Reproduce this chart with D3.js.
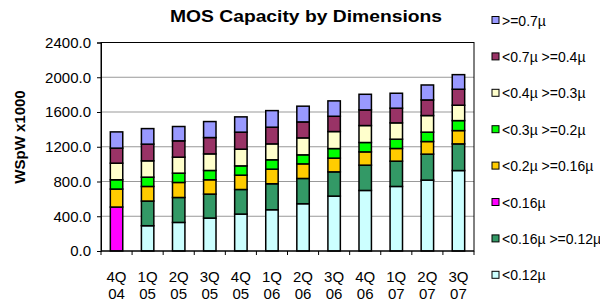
<!DOCTYPE html>
<html>
<head>
<meta charset="utf-8">
<script src="https://cdn.jsdelivr.net/npm/d3@7"></script>
<style>
  body { margin: 0; background: #fff; }
  svg text { font-family: Arial, "Liberation Sans", sans-serif; fill: #000; }
</style>
</head>
<body>
<div id="chart"></div>
<script>
// MOS capacity chart - stacked bars per quarter
var quarters = ["4Q 04", "1Q 05", "2Q 05", "3Q 05", "4Q 05", "1Q 06", "2Q 06", "3Q 06", "4Q 06", "1Q 07", "2Q 07", "3Q 07"];

// series, bottom of the stack first
var seriesNames = ["<0.12\u00b5", "<0.16\u00b5 >=0.12\u00b5", "<0.16\u00b5", "<0.2\u00b5 >=0.16\u00b5",
    "<0.3\u00b5 >=0.2\u00b5", "<0.4\u00b5 >=0.3\u00b5", "<0.7\u00b5 >=0.4\u00b5", ">=0.7\u00b5"];
var seriesColors = ["#CCFFFF", "#339966", "#FF00FF", "#FFCC00", "#00FF00", "#FFFFCC", "#993366", "#9999FF"];

var lt012   = [0, 291, 329, 379, 425, 475, 544, 632, 697, 743, 816, 926];
var lt016ge012 = [0, 284, 287, 276, 283, 299, 291, 279, 291, 291, 299, 307];
var lt016   = [506, 0, 0, 0, 0, 0, 0, 0, 0, 0, 0, 0];
var lt02ge016 = [207, 168, 173, 165, 165, 168, 168, 158, 153, 146, 145, 153];
var lt03ge02 = [107, 107, 107, 107, 107, 108, 104, 110, 108, 107, 108, 115];
var lt04ge03 = [191, 188, 184, 191, 192, 183, 195, 196, 195, 188, 191, 177];
var lt07ge04 = [173, 192, 188, 188, 196, 192, 184, 176, 180, 169, 180, 184];
var ge07    = [187, 179, 165, 184, 176, 191, 181, 177, 180, 172, 172, 168];

var yTicks = [0, 400, 800, 1200, 1600, 2000, 2400];

var seriesValues = [lt012, lt016ge012, lt016, lt02ge016, lt03ge02, lt04ge03, lt07ge04, ge07];

var svgWidth = 600;
var svgHeight = 302;
var margin = { top: 42.5, left: 101, right: 126, bottom: 51 };
var width = svgWidth - margin.left - margin.right;
var height = svgHeight - margin.top - margin.bottom;

var svg = d3.select("#chart").append("svg")
    .attr("width", svgWidth)
    .attr("height", svgHeight);

var chartGroup = svg.append("g")
    .attr("transform", `translate(${margin.left}, ${margin.top})`);

// build table for the stack
var table = quarters.map(function(q, i) {
    var row = { q: q };
    seriesNames.forEach(function(s, j) { row[s] = seriesValues[j][i]; });
    return row;
});
var stacked = d3.stack().keys(seriesNames)(table);

var xScale = d3.scaleBand().domain(quarters).range([0, width]).paddingInner(0.6).paddingOuter(0.3);
var xBand = d3.scaleBand().domain(quarters).range([0, width]);
var yScale = d3.scaleLinear().domain([0, 2400]).range([height, 0]);

// gridlines
chartGroup.append("g")
    .selectAll("line")
    .data(yTicks.slice(1, -1))
    .enter().append("line")
    .attr("x1", 0).attr("x2", width)
    .attr("y1", d => yScale(d)).attr("y2", d => yScale(d))
    .attr("stroke", "#999").attr("stroke-width", 1);

// bars
chartGroup.append("g").selectAll("g")
    .data(stacked)
    .enter().append("g")
    .attr("fill", (d, i) => seriesColors[i])
    .selectAll("rect")
    .data(d => d.filter(p => p[1] - p[0] > 0))
    .enter().append("rect")
    .attr("x", d => xScale(d.data.q))
    .attr("width", xScale.bandwidth())
    .attr("y", d => yScale(d[1]))
    .attr("height", d => yScale(d[0]) - yScale(d[1]))
    .attr("stroke", "#000").attr("stroke-width", 1.5);

// plot border
chartGroup.append("rect")
    .attr("width", width).attr("height", height)
    .attr("fill", "none").attr("stroke", "#000").attr("stroke-width", 1);

// y axis
var yAxis = chartGroup.append("g")
    .call(d3.axisLeft(yScale).tickValues(yTicks).tickSize(4).tickFormat(d3.format(".1f")));
yAxis.select(".domain").attr("stroke", "#000");
yAxis.selectAll("text").attr("font-size", 15).attr("dx", -3)
    .style("font-family", "Arial, 'Liberation Sans', sans-serif");

// x axis - ticks between categories
var xAxisG = chartGroup.append("g").attr("transform", `translate(0, ${height})`);
xAxisG.append("line").attr("x1", 0).attr("x2", width).attr("stroke", "#000");
xAxisG.selectAll(".tk")
    .data(quarters.concat(["end"]))
    .enter().append("line")
    .attr("x1", (d, i) => i * xBand.step()).attr("x2", (d, i) => i * xBand.step())
    .attr("y1", 0).attr("y2", 4).attr("stroke", "#000");

var xLabels = xAxisG.selectAll(".xl")
    .data(quarters)
    .enter().append("text")
    .attr("text-anchor", "middle")
    .attr("font-size", 15);
xLabels.append("tspan")
    .attr("x", d => xBand(d) + xBand.bandwidth() / 2)
    .attr("y", 30.5)
    .text(d => d.split(" ")[0]);
xLabels.append("tspan")
    .attr("x", d => xBand(d) + xBand.bandwidth() / 2)
    .attr("y", 47.5)
    .text(d => d.split(" ")[1]);

// title
svg.append("text")
    .attr("x", 306).attr("y", 22)
    .attr("text-anchor", "middle")
    .attr("font-size", 17).attr("font-weight", "bold")
    .attr("textLength", 272).attr("lengthAdjust", "spacingAndGlyphs")
    .text("MOS Capacity by Dimensions");

// y label
svg.append("text")
    .attr("transform", "translate(25, 137) rotate(-90)")
    .attr("text-anchor", "middle")
    .attr("font-size", 15).attr("font-weight", "bold")
    .text("WSpW x1000");

// legend, top item first
var legend = svg.append("g").attr("transform", "translate(492, 20)");
var legendItems = legend.selectAll("g")
    .data(seriesNames.slice().reverse())
    .enter().append("g")
    .attr("transform", (d, i) => `translate(0, ${i * 36.4})`);
legendItems.append("rect")
    .attr("x", 0).attr("y", -3.5).attr("width", 7).attr("height", 7)
    .attr("fill", d => seriesColors[seriesNames.indexOf(d)])
    .attr("stroke", "#000").attr("stroke-width", 1);
legendItems.append("text")
    .attr("x", 10).attr("y", 5.5)
    .attr("font-size", 14)
    .text(d => d);
</script>
</body>
</html>
